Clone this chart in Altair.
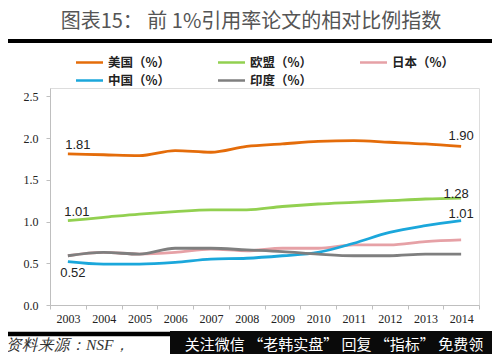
import altair as alt
import pandas as pd

years = [str(y) for y in range(2003, 2015)]
series = ["美国（%）", "欧盟（%）", "日本（%）", "中国（%）", "印度（%）"]
usa = [1.81, 1.80, 1.79, 1.85, 1.83, 1.90, 1.93, 1.96, 1.97, 1.95, 1.93, 1.90]
eu = [1.01, 1.05, 1.09, 1.12, 1.14, 1.14, 1.18, 1.21, 1.23, 1.25, 1.27, 1.28]
japan = [0.59, 0.63, 0.61, 0.63, 0.67, 0.65, 0.68, 0.68, 0.72, 0.72, 0.76, 0.78]
china = [0.52, 0.49, 0.49, 0.51, 0.55, 0.56, 0.59, 0.63, 0.74, 0.87, 0.95, 1.01]
india = [0.59, 0.63, 0.61, 0.68, 0.68, 0.66, 0.64, 0.61, 0.59, 0.59, 0.61, 0.61]
colors = ["#E46C0A", "#92D050", "#E6A1A6", "#1BA7DB", "#7F7F7F"]

title_text = "图表15：  前 1%引用率论文的相对比例指数"
source_text = "资料来源：NSF，"
watermark_text = "关注微信 “老韩实盘” 回复 “指标” 免费领"

vals = {"美国（%）": usa, "欧盟（%）": eu, "日本（%）": japan, "中国（%）": china, "印度（%）": india}
rows = []
for s in series:
    for y, v in zip(years, vals[s]):
        rows.append({"year": y, "series": s, "value": v})
df = pd.DataFrame(rows)

xscale = alt.Scale(type="band", paddingInner=0, paddingOuter=0, domain=years)

xenc = alt.X("year:O", bandPosition=0.5, scale=xscale,
             axis=alt.Axis(title=None, labelAngle=0, tickBand="extent", domainColor="#BFBFBF",
                           tickColor="#BFBFBF", tickSize=4, labelFont="Liberation Serif",
                           labelFontSize=12, labelColor="#222", labelPadding=4, grid=False))
yenc = alt.Y("value:Q", scale=alt.Scale(domain=[0, 2.5]),
             axis=alt.Axis(title=None, values=[0, 0.5, 1.0, 1.5, 2.0, 2.5], format=".1f",
                           domainColor="#BFBFBF", tickColor="#BFBFBF", tickSize=4,
                           labelFont="Liberation Serif", labelFontSize=12, labelColor="#222",
                           labelPadding=8, grid=False))

lines = alt.Chart(df).mark_line(strokeWidth=2.8, interpolate="monotone").encode(
    x=xenc, y=yenc,
    color=alt.Color("series:N", sort=series,
                    scale=alt.Scale(domain=series, range=colors),
                    legend=alt.Legend(title=None, orient="none", legendX=29, legendY=-36,
                                      direction="horizontal", columns=3,
                                      symbolType="M-1.5,0H1.5", symbolSize=324, symbolStrokeWidth=2.5,
                                      labelFont="Noto Sans CJK SC", labelFontWeight="bold",
                                      labelFontSize=12.5, labelColor="#222",
                                      columnPadding=42, rowPadding=1, gridAlign="all",
                                      labelOffset=8)))


def point_label(s, y, dx, dy):
    v = vals[s][years.index(y)]
    d = pd.DataFrame([{"year": y, "value": v, "label": f"{v:.2f}"}])
    return alt.Chart(d).mark_text(font="Liberation Sans", fontSize=13, color="#222",
                                  dx=dx, dy=dy, baseline="middle").encode(
        x=alt.X("year:O", bandPosition=0.5, scale=xscale), y="value:Q", text="label:N")


labels = [
    point_label("美国（%）", "2003", 10, -9),
    point_label("美国（%）", "2014", 0, -10),
    point_label("欧盟（%）", "2003", 9, -9),
    point_label("欧盟（%）", "2014", -5, -4),
    point_label("中国（%）", "2014", 0, -7),
    point_label("中国（%）", "2003", 5, 11),
]

one = pd.DataFrame({"t": [title_text]})
title = alt.Chart(one).mark_text(font="Noto Sans CJK SC", fontSize=20, color="#555",
                                 align="center", baseline="middle").encode(
    x=alt.value(201), y=alt.value(-66), text="t:N")
rule_top = alt.Chart(one).mark_rule(color="#000", strokeWidth=4).encode(
    x=alt.value(-45), x2=alt.value(445), y=alt.value(-47))
rule_bot = alt.Chart(one).mark_rule(color="#000", strokeWidth=4.5).encode(
    x=alt.value(-45), x2=alt.value(445), y=alt.value(246))
src = alt.Chart(pd.DataFrame({"t": [source_text]})).mark_text(
    font="Liberation Serif", fontSize=15.5, fontStyle="italic", color="#333",
    align="left", baseline="middle").encode(x=alt.value(-44), y=alt.value(257), text="t:N")
box = alt.Chart(one).mark_rect(color="#0a0a0a").encode(
    x=alt.value(120), x2=alt.value(450), y=alt.value(243), y2=alt.value(275))
wm = alt.Chart(pd.DataFrame({"t": [watermark_text]})).mark_text(
    font="Noto Sans CJK SC", fontSize=15, color="#fff", align="center", baseline="middle").encode(
    x=alt.value(284), y=alt.value(257), text="t:N")

chart = alt.layer(lines, *labels, title, rule_top, rule_bot, box, src, wm).properties(
    width=429, height=217,
    autosize=alt.AutoSizeParams(type="none"),
    padding={"left": 42, "top": 80, "right": 13, "bottom": 49},
).configure_view(stroke=None).configure(background="#ffffff")

chart.save("out.html", embed_options={"renderer": "svg", "actions": False})
